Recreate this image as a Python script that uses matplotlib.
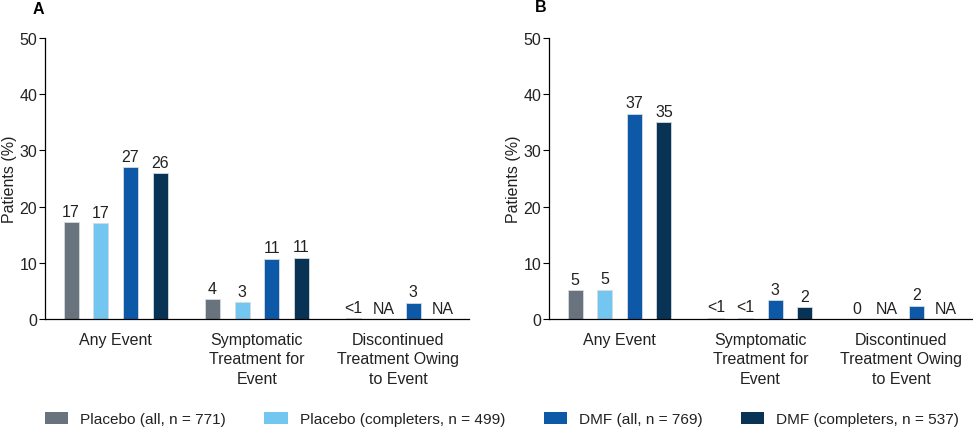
import matplotlib
matplotlib.use("Agg")
import matplotlib.pyplot as plt
from matplotlib.patches import Patch
import numpy as np

plt.rcParams['font.family'] = ['Liberation Sans', 'DejaVu Sans']

categories = ["Any Event", "Symptomatic\nTreatment for\nEvent", "Discontinued\nTreatment Owing\nto Event"]
series = ["Placebo (all, n = 771)", "Placebo (completers, n = 499)",
          "DMF (all, n = 769)", "DMF (completers, n = 537)"]
colors = ["#68737d", "#73c6f0", "#0d59a8", "#083355"]

# Panel A values (None = NA)
a_values = [
    [17.2, 3.5, 0.15],
    [17.0, 3.0, None],
    [27.0, 10.7, 2.9],
    [25.9, 10.9, None],
]
a_labels = [
    ["17", "4", "<1"],
    ["17", "3", "NA"],
    ["27", "11", "3"],
    ["26", "11", "NA"],
]
# Panel B values
b_values = [
    [5.1, 0.2, 0.0],
    [5.2, 0.2, None],
    [36.5, 3.3, 2.4],
    [35.0, 2.1, None],
]
b_labels = [
    ["5", "<1", "0"],
    ["5", "<1", "NA"],
    ["37", "3", "2"],
    ["35", "2", "NA"],
]

FS = 11.5
LFS = 11.1

fig = plt.figure(figsize=(9.73, 4.31), dpi=100)
axA = fig.add_axes([0.0462, 0.2575, 0.4358, 0.652])
axB = fig.add_axes([0.5642, 0.2575, 0.4347, 0.652])

x = np.arange(len(categories))
step = 0.21
width = 0.107
offsets = (np.arange(4) - 1.5) * step

def draw(ax, values, labels):
    for i in range(4):
        vals = [v if v is not None else 0 for v in values[i]]
        bars = ax.bar(x + offsets[i], vals, width=width, color=colors[i],
                      edgecolor="#d5dbe1", linewidth=0.6)
        for j, b in enumerate(bars):
            if values[i][j] is None:
                b.set_visible(False)
            ax.annotate(labels[i][j], (x[j] + offsets[i], vals[j]),
                        xytext=(0, 2.5), textcoords="offset points",
                        ha="center", va="bottom", fontsize=FS, color="#222222")
    ax.set_xlim(-0.5, 2.5)
    ax.set_ylim(0, 50)
    ax.set_yticks([0, 10, 20, 30, 40, 50])
    ax.set_xticks(x)
    ax.set_xticklabels(categories, fontsize=FS, linespacing=1.38, va="top", color="#222222")
    ax.tick_params(axis="x", length=0, pad=9)
    ax.tick_params(axis="y", length=4, width=0.8, labelsize=FS, pad=1.5,
                   direction="out", labelcolor="#222222")
    for s in ["top", "right"]:
        ax.spines[s].set_visible(False)
    ax.spines["left"].set_linewidth(0.9)
    ax.spines["bottom"].set_linewidth(0.9)
    ax.set_ylabel("Patients (%)", fontsize=FS, labelpad=2, color="#222222")

draw(axA, a_values, a_labels)
draw(axB, b_values, b_labels)

fig.text(38 / 973, 1 - 10 / 431, "A", fontsize=FS, fontweight="bold", ha="center", va="center")
fig.text(541 / 973, 1 - 7 / 431, "B", fontsize=FS, fontweight="bold", ha="center", va="center")

handles = [Patch(facecolor=c, edgecolor="none") for c in colors]
fig.legend(handles, series, loc="center left", bbox_to_anchor=(45 / 973, 1 - 420 / 431),
           ncol=4, frameon=False, fontsize=LFS, handlelength=1.5, handleheight=0.83,
           handletextpad=0.78, columnspacing=2.5, borderaxespad=0, borderpad=0,
           labelcolor="#222222")

fig.savefig("out.png", dpi=100)
